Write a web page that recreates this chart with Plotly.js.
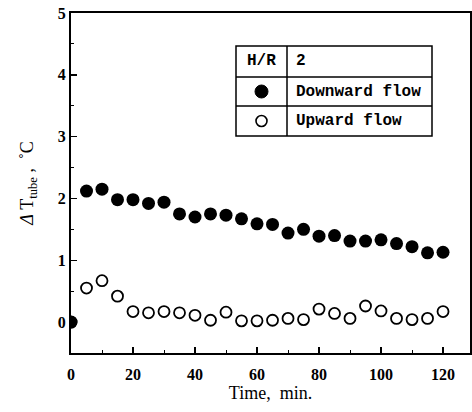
<!DOCTYPE html>
<html>
<head>
<meta charset="utf-8">
<script src="https://cdn.plot.ly/plotly-3.0.1.min.js"></script>
<style>html,body{margin:0;padding:0;background:#fff;}#chart{width:472px;height:412px;}</style>
</head>
<body>
<div id="chart"></div>
<script>
const timeMin = [0,5,10,15,20,25,30,35,40,45,50,55,60,65,70,75,80,85,90,95,100,105,110,115,120];
const downwardFlow = [0,2.12,2.15,1.98,1.98,1.92,1.94,1.75,1.70,1.75,1.73,1.67,1.59,1.58,1.44,1.50,1.39,1.40,1.31,1.31,1.33,1.27,1.22,1.12,1.13];
const upwardFlow = [0,0.55,0.67,0.42,0.17,0.15,0.17,0.15,0.11,0.03,0.16,0.02,0.02,0.03,0.06,0.04,0.21,0.14,0.06,0.26,0.18,0.06,0.04,0.06,0.17];
const xTicks = [0,20,40,60,80,100,120];
const yTicks = [0,1,2,3,4,5];
const legendHeader = ["H/R","2"];
const legendLabels = ["Downward flow","Upward flow"];

const serif = "Liberation Serif, DejaVu Serif, serif";
const mono = "Liberation Mono, DejaVu Sans Mono, monospace";

const traces = [
  {x: timeMin, y: upwardFlow, mode: 'markers', type: 'scatter', name: legendLabels[1],
   marker: {symbol: 'circle-open', size: 11, color: '#000', line: {width: 1.8, color: '#000'}}},
  {x: timeMin, y: downwardFlow, mode: 'markers', type: 'scatter', name: legendLabels[0],
   marker: {symbol: 'circle', size: 13, color: '#000'}}
];

// legend table geometry in paper coords (plot area: x 71..470, y 13..353)
const W = 472, H = 412, L = 71, R = 470, T = 13, B = 353;
const px = v => (v - L) / (R - L);
const py = v => (B - v) / (B - T);
const tx0 = px(236), tx1 = px(432), tdiv = px(287);
const ty = [py(46), py(77), py(106), py(136)];

const shapes = [
  {type:'rect', xref:'paper', yref:'paper', x0:tx0, x1:tx1, y0:ty[3], y1:ty[0], line:{color:'#000', width:1.5}},
  {type:'line', xref:'paper', yref:'paper', x0:tdiv, x1:tdiv, y0:ty[3], y1:ty[0], line:{color:'#000', width:1.5}},
  {type:'line', xref:'paper', yref:'paper', x0:tx0, x1:tx1, y0:ty[1], y1:ty[1], line:{color:'#000', width:1.5}},
  {type:'line', xref:'paper', yref:'paper', x0:tx0, x1:tx1, y0:ty[2], y1:ty[2], line:{color:'#000', width:1.5}},
  {type:'circle', xref:'paper', yref:'paper', xsizemode:'pixel', ysizemode:'pixel',
   xanchor:(tx0+tdiv)/2, yanchor:(ty[1]+ty[2])/2, x0:-6.5, x1:6.5, y0:-6.5, y1:6.5,
   fillcolor:'#000', line:{color:'#000', width:1}},
  {type:'circle', xref:'paper', yref:'paper', xsizemode:'pixel', ysizemode:'pixel',
   xanchor:(tx0+tdiv)/2, yanchor:(ty[2]+ty[3])/2, x0:-5.5, x1:5.5, y0:-5.5, y1:5.5,
   fillcolor:'rgba(0,0,0,0)', line:{color:'#000', width:1.6}}
];

const annFont = {family: mono, size: 16, color: '#000', weight: 'bold'};
const annotations = [
  {xref:'paper', yref:'paper', x:(tx0+tdiv)/2, y:(ty[0]+ty[1])/2, text:legendHeader[0], showarrow:false, font:annFont, xanchor:'center', yanchor:'middle'},
  {xref:'paper', yref:'paper', x:tdiv+0.017, y:(ty[0]+ty[1])/2, text:legendHeader[1], showarrow:false, font:annFont, xanchor:'left', yanchor:'middle'},
  {xref:'paper', yref:'paper', x:tdiv+0.017, y:(ty[1]+ty[2])/2, text:legendLabels[0], showarrow:false, font:annFont, xanchor:'left', yanchor:'middle'},
  {xref:'paper', yref:'paper', x:tdiv+0.017, y:(ty[2]+ty[3])/2, text:legendLabels[1], showarrow:false, font:annFont, xanchor:'left', yanchor:'middle'}
];

const layout = {
  width: W, height: H,
  margin: {l: L, r: W - R, t: T, b: H - B, pad: 0},
  paper_bgcolor: '#fff', plot_bgcolor: '#fff',
  showlegend: false,
  font: {family: serif, color: '#000'},
  xaxis: {
    range: [0, 128.7], tickvals: xTicks, ticktext: xTicks.map(String),
    ticks: 'inside', ticklen: 6, tickwidth: 1.5, tickcolor: '#000',
    minor: {dtick: 10, ticks: 'inside', ticklen: 3, tickcolor: '#000', tickwidth: 1},
    showline: true, linecolor: '#000', linewidth: 2, mirror: true,
    showgrid: false, zeroline: false, ticklabelstandoff: 6,
    tickfont: {family: serif, size: 16, color: '#000', weight: 'bold'},
    title: {text: 'Time,  min.', font: {family: serif, size: 18, color: '#000'}, standoff: 4}
  },
  yaxis: {
    range: [-0.5, 5], tickvals: yTicks, ticktext: yTicks.map(String),
    ticks: 'inside', ticklen: 6, tickwidth: 1.5, tickcolor: '#000',
    minor: {dtick: 0.5, ticks: 'inside', ticklen: 3, tickcolor: '#000', tickwidth: 1},
    showline: true, linecolor: '#000', linewidth: 2, mirror: true,
    showgrid: false, zeroline: false,
    tickfont: {family: serif, size: 16, color: '#000', weight: 'bold'},
    title: {text: '<i>Δ</i> T<sub>tube</sub> ,  ˚C', font: {family: serif, size: 18, color: '#000'}, standoff: 19}
  },
  shapes: shapes,
  annotations: annotations
};

Plotly.newPlot('chart', traces, layout, {displayModeBar: false, staticPlot: true});
</script>
</body>
</html>
